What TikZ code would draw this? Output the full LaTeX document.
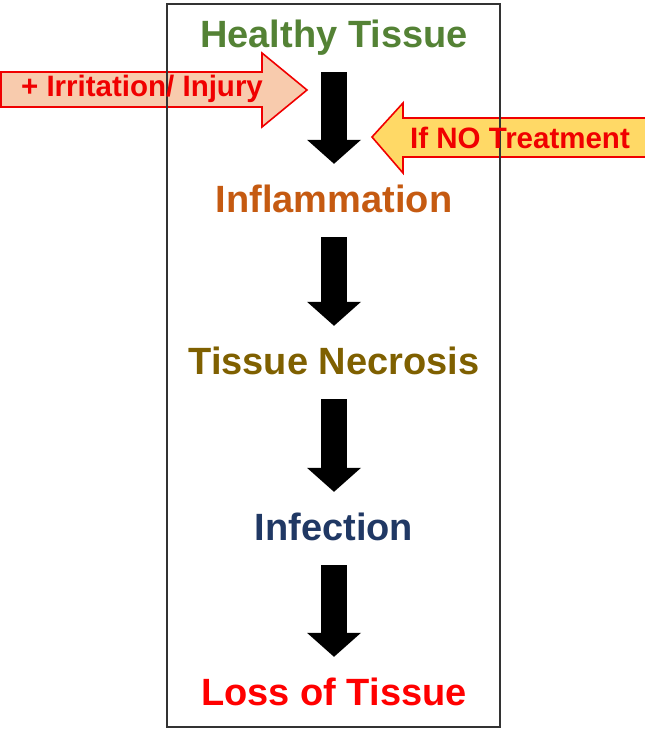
\documentclass[tikz,border=0pt]{standalone}
\usepackage{fontspec}
\setmainfont{Liberation Sans}
\usepackage{tikz}
\usetikzlibrary{arrows.meta}
\definecolor{healthygreen}{HTML}{548235}
\definecolor{inflamorange}{HTML}{C55A11}
\definecolor{necrosisolive}{HTML}{7F6000}
\definecolor{infectblue}{HTML}{203864}
\definecolor{callred}{HTML}{F00000}
\definecolor{irritfill}{HTML}{F8CBAD}
\definecolor{treatfill}{HTML}{FFD966}

\begin{document}
\begin{tikzpicture}[x=1pt,y=-1pt,
  stage/.style={font=\fontsize{38}{40}\selectfont\bfseries,inner sep=0pt,
    text height=28pt,text depth=0pt,anchor=base},
  flow/.style={line width=26pt,-{Triangle[width=54pt,length=24pt,line width=0pt]},
    shorten <=25pt,shorten >=20pt},
  callout/.style={draw=callred,line width=1.6pt,line join=miter},
  calltext/.style={font=\fontsize{29.5}{31}\selectfont\bfseries,text=callred,inner sep=0pt}]
  \useasboundingbox (0,0) rectangle (645,732);
  % side arrows
  \draw[callout,fill=irritfill] (1,72) -- (262,72) -- (262,53) -- (307,90)
    -- (262,127) -- (262,107) -- (1,107) -- cycle;
  \draw[callout,fill=treatfill] (655,118) -- (403,118) -- (403,103) -- (372,137)
    -- (403,173) -- (403,157) -- (655,157) -- cycle;
  % frame
  \draw[line width=1.2pt,black!80] (167,4) rectangle (500,727);
  \node[calltext] (irritation) at (142,89) {+ Irritation/ Injury};
  \node[calltext] (treatment) at (520,138) {If NO Treatment};
  % stages
  \node[stage,text=healthygreen] (healthy) at (334,47) {Healthy Tissue};
  \node[stage,text=inflamorange] (inflam) at (334,212) {Inflammation};
  \node[stage,text=necrosisolive] (necrosis) at (334,374) {Tissue Necrosis};
  \node[stage,text=infectblue] (infect) at (334,540) {Infection};
  \node[stage,text=red] (loss) at (334,705) {Loss of Tissue};
  \draw[flow] (healthy.south) -- (inflam.north);
  \draw[flow] (inflam.south) -- (necrosis.north);
  \draw[flow] (necrosis.south) -- (infect.north);
  \draw[flow] (infect.south) -- (loss.north);
\end{tikzpicture}
\end{document}
